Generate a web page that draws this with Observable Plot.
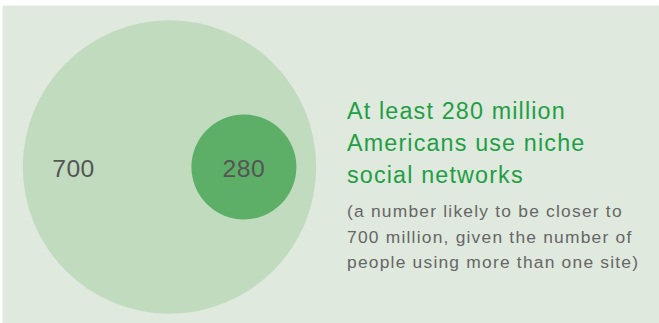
<!DOCTYPE html>
<html>
<head>
<meta charset="utf-8">
<script src="https://cdn.jsdelivr.net/npm/d3@7"></script>
<script src="https://cdn.jsdelivr.net/npm/@observablehq/plot@0.6"></script>
<style>
  html, body { margin: 0; padding: 0; background: #ffffff; }
  svg { display: block; }
</style>
</head>
<body>
<div id="chart"></div>
<script>
// ---- data ----
const groups = ["Niche network accounts", "Americans using niche networks"];
const values = [700, 280];            // millions
const valueLabels = ["700", "280"];
const titleLines = ["At least 280 million", "Americans use niche", "social networks"];
const noteLines = ["(a number likely to be closer to", "700 million, given the number of", "people using more than one site)"];

// ---- layout ----
const W = 659, H = 323;
const center = {x: 169, y: 166.5};
const rRange = [52.5, 146.7];
const gap = 19.8;          // inner circle inset from outer circle's right edge
const textX = 346.5;

const rScale = d3.scaleLinear().domain([280, 700]).range(rRange);
const rBig = rScale(values[0]);
const rows = groups.map((g, i) => {
  const r = rScale(values[i]);
  const cx = i === 0 ? center.x : center.x + rBig - r - gap;
  return {group: g, value: values[i], label: valueLabels[i], cx, cy: center.y, labelX: i === 0 ? 73 : cx};
});

const chart = Plot.plot({
  width: W,
  height: H,
  marginLeft: 2, marginTop: 5, marginRight: 0, marginBottom: 0,
  x: {domain: [2, W], range: [2, W], axis: null},
  y: {domain: [5, H], range: [5, H], axis: null},
  r: {type: "linear", domain: [280, 700], range: rRange},
  style: {fontFamily: "'Liberation Sans', Arial, Helvetica, sans-serif", background: "transparent"},
  marks: [
    Plot.frame({fill: "#dfe9de", stroke: "none"}),
    Plot.dot(rows, {x: "cx", y: "cy", r: "value", fill: (d, i) => i === 0 ? "#c1dbbf" : "#5daf67", stroke: "none"}),
    Plot.text(rows, {x: "labelX", y: 176, text: "label", fontSize: 24.7, fill: "#555555", lineAnchor: "bottom", textAnchor: "middle"}),
    Plot.text([titleLines.join("\n")], {x: textX, y: 96.2, text: d => d, fontSize: 23.3, lineHeight: 1.369, lineAnchor: "top", textAnchor: "start", fill: "#1f9e45"}),
    Plot.text([noteLines.join("\n")], {x: textX, y: 198.4, text: d => d, fontSize: 17.4, lineHeight: 1.466, lineAnchor: "top", textAnchor: "start", fill: "#666666"})
  ]
});

const spacing = ["0.02em", "0.05em", "0.07em"];
d3.select(chart).selectAll("g[aria-label=text]").each(function(d, i) {
  d3.select(this).attr("letter-spacing", spacing[i]);
});
document.getElementById("chart").appendChild(chart);
</script>
</body>
</html>
